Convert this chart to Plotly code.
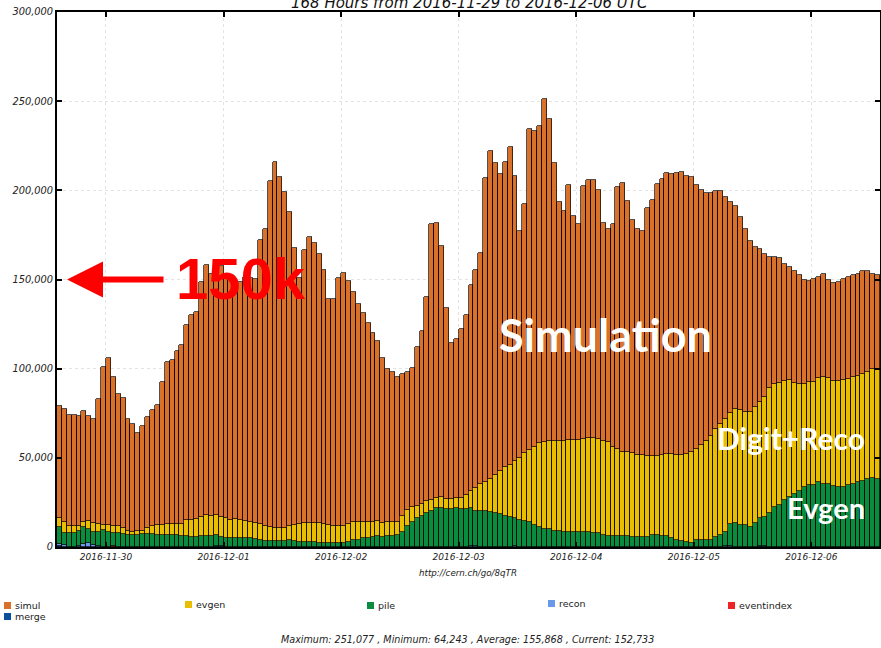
import pandas as pd
import plotly.graph_objects as go

# ---- data (values in thousands of jobs, hourly bins from 2016-11-29 14:00 UTC) ----
start = "2016-11-29 14:00"
n_hours = 168

simul = [63.2, 63.6, 61.8, 61.8, 61.7, 62.0, 59.1, 58.6, 70.1, 88.4,
         93.3, 83.5, 73.8, 73.2, 62.9, 60.6, 55.2, 58.7, 62.4, 64.6,
         66.9, 79.8, 90.5, 91.7, 96.7, 100.3, 109.3, 114.8, 116.4, 131.8,
         140.0, 135.5, 139.1, 140.6, 135.4, 134.3, 132.9, 133.9, 137.0, 137.2,
         137.0, 159.3, 166.2, 194.0, 204.9, 196.5, 188.1, 176.1, 155.5, 137.7,
         152.8, 160.1, 157.0, 150.9, 142.8, 126.9, 126.9, 139.1, 141.7, 135.9,
         128.6, 121.9, 116.8, 111.6, 105.6, 100.9, 92.1, 85.6, 83.7, 81.3,
         79.2, 77.4, 78.1, 89.1, 96.6, 114.4, 154.7, 154.0, 140.8, 106.9,
         87.7, 89.1, 94.5, 101.0, 115.6, 122.4, 129.5, 170.1, 184.3, 174.7,
         166.2, 171.0, 178.3, 160.0, 127.2, 139.8, 179.8, 176.9, 178.1, 192.4,
         180.5, 155.6, 134.1, 128.7, 142.8, 125.6, 120.9, 141.8, 145.0, 144.8,
         139.6, 122.0, 119.2, 124.9, 147.0, 150.4, 140.7, 130.4, 126.7, 125.6,
         138.9, 143.8, 152.3, 154.7, 158.0, 157.2, 158.5, 159.1, 156.3, 154.1,
         148.1, 143.2, 138.9, 135.9, 133.6, 130.6, 124.8, 118.6, 114.2, 108.0,
         102.6, 95.9, 89.7, 85.8, 79.8, 73.4, 71.2, 70.1, 65.6, 63.8,
         62.5, 61.1, 58.5, 56.5, 57.4, 56.8, 57.4, 55.4, 55.1, 55.5,
         56.6, 57.4, 56.8, 56.9, 57.8, 56.5, 53.1, 52.9]

evgen = [5.0, 5.8, 4.0, 4.0, 2.5, 3.0, 4.5, 4.8, 4.2, 3.0,
         4.0, 4.0, 4.0, 3.0, 2.5, 1.5, 2.0, 1.5, 3.0, 4.5,
         5.5, 5.5, 6.0, 6.5, 6.5, 7.0, 9.0, 9.5, 9.7, 11.0,
         11.5, 11.4, 11.0, 11.2, 11.3, 10.4, 10.3, 9.7, 9.7, 8.9,
         9.1, 8.7, 8.6, 8.1, 7.7, 7.7, 7.7, 8.2, 9.0, 10.0,
         10.9, 10.9, 10.9, 10.8, 10.3, 9.9, 9.6, 9.5, 9.5, 10.2,
         10.0, 10.0, 9.4, 9.0, 8.6, 8.4, 8.1, 8.0, 8.0, 7.5,
         9.2, 9.1, 8.2, 6.8, 6.9, 6.3, 6.0, 5.8, 5.9, 5.8,
         5.8, 5.8, 6.6, 8.0, 9.2, 12.7, 14.9, 16.4, 18.5, 21.5,
         24.3, 27.3, 29.2, 31.8, 35.0, 37.9, 40.4, 44.1, 46.9, 48.4,
         49.6, 50.5, 50.7, 51.0, 51.5, 51.5, 51.5, 52.2, 52.5, 53.1,
         52.8, 52.5, 52.7, 50.0, 48.5, 47.3, 47.3, 47.1, 46.0, 46.0,
         45.2, 44.3, 44.3, 45.2, 45.7, 46.7, 47.2, 47.9, 49.3, 51.4,
         50.8, 53.3, 55.5, 58.5, 60.6, 62.1, 63.1, 61.9, 63.7, 64.5,
         63.2, 64.5, 65.4, 65.0, 67.4, 69.8, 69.0, 68.4, 66.8, 65.4,
         62.2, 59.8, 57.6, 57.7, 58.1, 58.2, 60.0, 59.5, 59.1, 59.5,
         60.0, 59.4, 60.0, 59.6, 60.2, 60.0, 61.2, 61.5]

pile = [9.2, 7.0, 8.0, 8.0, 8.2, 9.2, 7.8, 7.3, 7.7, 9.5,
        8.5, 7.4, 8.0, 7.5, 6.5, 7.0, 7.0, 7.5, 7.5, 7.5,
        7.0, 7.0, 7.0, 6.5, 6.5, 6.0, 6.0, 5.8, 5.8, 6.0,
        6.4, 6.0, 6.4, 5.3, 4.9, 4.9, 5.2, 5.2, 4.9, 4.9,
        4.4, 4.0, 3.3, 3.3, 3.1, 3.1, 3.1, 3.7, 3.3, 2.9,
        2.6, 2.6, 2.6, 2.4, 2.4, 2.4, 2.4, 2.4, 2.4, 2.9,
        4.2, 4.2, 4.8, 5.2, 5.6, 6.2, 5.6, 6.2, 6.2, 6.7,
        8.4, 11.8, 14.2, 16.4, 17.4, 19.3, 20.2, 21.7, 22.1, 21.1,
        21.1, 21.7, 21.1, 21.1, 21.3, 19.4, 20.2, 20.2, 19.4, 18.9,
        18.5, 17.4, 16.8, 15.8, 15.0, 14.6, 14.0, 12.1, 11.2, 10.3,
        9.9, 9.0, 8.8, 8.5, 8.5, 8.5, 8.5, 8.5, 8.5, 7.9,
        7.6, 7.0, 6.2, 6.2, 6.2, 6.2, 6.2, 5.8, 5.4, 5.4,
        5.8, 6.7, 6.7, 6.2, 6.2, 5.2, 4.2, 3.5, 2.6, 2.1,
        3.9, 3.9, 3.9, 3.9, 5.4, 6.7, 7.8, 12.4, 13.5, 12.3,
        12.3, 11.4, 13.3, 15.6, 16.4, 19.2, 22.2, 23.4, 26.3, 28.0,
        29.9, 31.4, 33.6, 35.0, 34.6, 36.4, 35.5, 35.1, 34.0, 33.6,
        33.6, 34.6, 35.5, 36.4, 36.8, 38.3, 38.6, 38.3]

# sparse small series: {hour index: value in thousands}
recon_pts = {0: 1.2, 1: 1.0, 4: 0.8, 5: 1.8, 6: 2.2, 7: 1.2, 8: 0.8,
             84: 0.8, 85: 0.8, 93: 0.6, 136: 0.7, 137: 0.7}
merge_pts = {0: 0.6, 32: 0.5, 33: 0.5, 143: 0.5, 144: 0.5}
eventindex_pts = {11: 0.6}

series_names = ["simul", "evgen", "pile", "recon", "eventindex", "merge"]
colors = {"simul": "#d9712b", "evgen": "#e9bd00", "pile": "#0a8c3e",
          "recon": "#6a98ea", "eventindex": "#ee2424", "merge": "#0b4f9c"}

tick_days = ["2016-11-30", "2016-12-01", "2016-12-02", "2016-12-03",
             "2016-12-04", "2016-12-05", "2016-12-06"]

title_text = "168 Hours from 2016-11-29 to 2016-12-06 UTC"
footer_url = "http://cern.ch/go/8qTR"
stats_text = "Maximum: 251,077 , Minimum: 64,243 , Average: 155,868 , Current: 152,733"

# ---- build ----
times = pd.date_range(start, periods=n_hours, freq="h") + pd.Timedelta(minutes=30)
HOUR_MS = 3600 * 1000


def sparse(d):
    return [d.get(i, 0.0) * 1000 for i in range(n_hours)]


stack = [
    ("merge", sparse(merge_pts)),
    ("eventindex", sparse(eventindex_pts)),
    ("recon", sparse(recon_pts)),
    ("pile", [v * 1000 for v in pile]),
    ("evgen", [v * 1000 for v in evgen]),
    ("simul", [v * 1000 for v in simul]),
]

fig = go.Figure()
for name, vals in stack:
    fig.add_trace(go.Bar(
        x=times, y=vals, name=name, width=HOUR_MS,
        marker=dict(color=colors[name],
                    line=dict(color="rgba(0,0,0,0.85)", width=0.8)),
        showlegend=False,
    ))

L, R, T, B = 57, 1, 12, 101
W, H = 881, 648
PW, PH = W - L - R, H - T - B


def px(xp):
    return (xp - L) / PW


def py(yp):
    return (T + PH - yp) / PH


ital = dict(family="DejaVu Sans", color="#222222", style="italic")

fig.update_layout(
    width=W, height=H,
    margin=dict(l=L, r=R, t=T, b=B, autoexpand=False),
    paper_bgcolor="white", plot_bgcolor="white",
    barmode="stack", bargap=0,
    font=dict(family="DejaVu Sans", size=9, color="#222222"),
)

axis_common = dict(
    automargin=False,
    showline=True, linecolor="black", linewidth=2, mirror="ticks",
    ticks="inside", ticklen=5, tickwidth=2, tickcolor="black",
    showgrid=True, gridcolor="#e3e3e3", griddash="dot", gridwidth=1,
)
fig.update_xaxes(
    type="date",
    range=[pd.Timestamp(start), pd.Timestamp(start) + pd.Timedelta(hours=n_hours)],
    tickmode="array", tickvals=tick_days, ticktext=tick_days,
    tickfont=dict(size=9, **ital),
    **axis_common,
)
fig.update_yaxes(
    range=[0, 300000], dtick=50000, tickformat=",d",
    tickfont=dict(size=9.8, **ital),
    zeroline=False,
    **axis_common,
)

ann = []
# title (clipped at top like the reference)
ann.append(dict(text=title_text, xref="paper", yref="paper", x=px(469), y=py(3),
                xanchor="center", yanchor="middle", showarrow=False,
                font=dict(size=15, family="DejaVu Sans", color="#111111", style="italic")))
ann.append(dict(text=footer_url, xref="paper", yref="paper", x=px(468), y=py(573),
                xanchor="center", yanchor="middle", showarrow=False,
                font=dict(size=8.7, **ital)))
ann.append(dict(text=stats_text, xref="paper", yref="paper", x=px(467), y=py(639),
                xanchor="center", yanchor="middle", showarrow=False,
                font=dict(size=9.6, **ital)))

# legend (custom placement)
legend_pos = {"simul": (4, 605), "evgen": (185, 604), "pile": (367, 605),
              "recon": (548, 603), "eventindex": (728, 605), "merge": (4, 616)}
shapes = []
for name in series_names:
    lx, ly = legend_pos[name]
    shapes.append(dict(type="rect", xref="paper", yref="paper",
                       x0=px(lx), x1=px(lx + 7), y0=py(ly + 4), y1=py(ly - 3),
                       fillcolor=colors[name], line=dict(width=0)))
    ann.append(dict(text=name, xref="paper", yref="paper", x=px(lx + 9), y=py(ly),
                    xanchor="left", yanchor="middle", showarrow=False,
                    font=dict(family="DejaVu Sans", size=9.5, color="#222222", style="normal")))

# red arrow + 150k
ann.append(dict(text="", xref="paper", yref="y", x=px(67), y=150000,
                ax=98, ay=0, axref="pixel", ayref="pixel",
                showarrow=True, arrowhead=2, arrowsize=1.2, arrowwidth=6,
                arrowcolor="#ff0000"))
ann.append(dict(text="<b>150k</b>", xref="paper", yref="paper", x=px(241), y=py(278),
                xanchor="center", yanchor="middle", showarrow=False,
                font=dict(family="Liberation Sans", size=58, color="#ff0000", style="normal")))
# white labels
ann.append(dict(text="<b>Simulation</b>", xref="paper", yref="paper", x=px(605), y=py(335),
                xanchor="center", yanchor="middle", showarrow=False,
                font=dict(family="Lato", size=45, color="white", style="normal")))
ann.append(dict(text="<b>Digit+Reco</b>", xref="paper", yref="paper", x=px(791), y=py(438),
                xanchor="center", yanchor="middle", showarrow=False,
                font=dict(family="Lato", size=30, color="white", style="normal")))
ann.append(dict(text="<b>Evgen</b>", xref="paper", yref="paper", x=px(826), y=py(507),
                xanchor="center", yanchor="middle", showarrow=False,
                font=dict(family="Lato", size=29, color="white", style="normal")))

fig.update_layout(annotations=ann, shapes=shapes)
fig.write_html("out.html",
               config={"displayModeBar": False},
               post_script="document.body.style.margin='0';document.body.style.overflow='hidden';")
